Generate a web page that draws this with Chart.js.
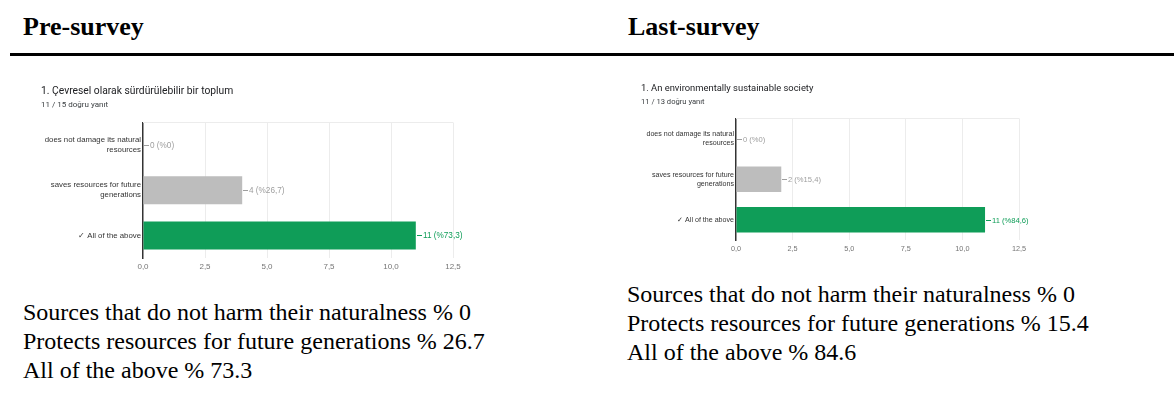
<!DOCTYPE html>
<html lang="tr">
<head>
    <meta charset="UTF-8">
    <title>Pre-survey / Last-survey</title>
    <script src="https://cdn.jsdelivr.net/npm/chart.js@4.4.1/dist/chart.umd.min.js"></script>
    <style>
        html, body {
            margin: 0;
            padding: 0;
            background: #fff;
        }
        body {
            width: 1174px;
            height: 400px;
            position: relative;
            overflow: hidden;
        }
        .head {
            position: absolute;
            top: 14px;
            font: bold 26px/26px "Liberation Serif", "Times New Roman", serif;
            color: #000;
        }
        .rule {
            position: absolute;
            left: 10px;
            right: 0;
            top: 53px;
            height: 3px;
            background: #000;
        }
        .notes {
            position: absolute;
            font: 24px/29px "Liberation Serif", "Times New Roman", serif;
            color: #000;
            white-space: nowrap;
        }
        canvas {
            position: absolute;
        }
    </style>
</head>
<body>

<div class="head" style="left:23px">Pre-survey</div>
<div class="head" style="left:628px">Last-survey</div>
<div class="rule"></div>

<canvas id="preChart" width="454" height="200" style="left:36px; top:80px; width:454px; height:200px"></canvas>
<canvas id="lastChart" width="424" height="190" style="left:636px; top:75px; width:424px; height:190px"></canvas>

<div class="notes" id="preNotes" style="left:23px; top:298px"></div>
<div class="notes" id="lastNotes" style="left:627px; top:280px"></div>

<script>
    // answer options (y axis)
    var categories = [
        ['does not damage its natural', 'resources'],
        ['saves resources for future', 'generations'],
        ['\u2713 All of the above']
    ];

    // pre-survey: counts and percentages
    var preTitle = '1. Çevresel olarak sürdürülebilir bir toplum';
    var preSubtitle = '11 / 15 doğru yanıt';
    var preCounts = [0, 4, 11];
    var prePercents = ['0', '26,7', '73,3'];

    // last-survey
    var lastTitle = '1. An environmentally sustainable society';
    var lastSubtitle = '11 / 13 doğru yanıt';
    var lastCounts = [0, 2, 11];
    var lastPercents = ['0', '15,4', '84,6'];

    // x axis
    var xTickLabels = ['0,0', '2,5', '5,0', '7,5', '10,0', '12,5'];

    // text under the charts
    var preLines = [
        'Sources that do not harm their naturalness % 0',
        'Protects resources for future generations % 26.7',
        'All of the above % 73.3'
    ];
    var lastLines = [
        'Sources that do not harm their naturalness % 0',
        'Protects resources for future generations % 15.4',
        'All of the above % 84.6'
    ];

    var barColors = ['#bdbdbd', '#bdbdbd', '#0f9d58'];
    var labelColors = ['#9e9e9e', '#9e9e9e', '#0f9d58'];

    document.getElementById('preNotes').innerHTML = preLines.join('<br>');
    document.getElementById('lastNotes').innerHTML = lastLines.join('<br>');

    // little "—4 (%26,7)" labels at the end of each bar
    var barValueLabels = {
        id: 'barValueLabels',
        afterDatasetsDraw: function(chart, args, opts) {
            var ctx = chart.ctx;
            var meta = chart.getDatasetMeta(0);
            var data = chart.data.datasets[0].data;
            ctx.save();
            ctx.font = opts.fontSize + 'px "Liberation Sans", Arial, sans-serif';
            ctx.textBaseline = 'middle';
            ctx.textAlign = 'left';
            meta.data.forEach(function(bar, i) {
                var x = Math.round(bar.x);
                var y = Math.round(bar.y);
                ctx.strokeStyle = labelColors[i];
                ctx.fillStyle = labelColors[i];
                ctx.lineWidth = 1;
                ctx.beginPath();
                ctx.moveTo(x + 1, y + 0.5);
                ctx.lineTo(x + 6, y + 0.5);
                ctx.stroke();
                ctx.fillText(data[i] + ' (%' + opts.percents[i] + ')', x + 7, y + 0.5);
            });
            ctx.restore();
        }
    };

    // faint line along the top of the plot
    var topLine = {
        id: 'topLine',
        beforeDatasetsDraw: function(chart) {
            var a = chart.chartArea;
            var ctx = chart.ctx;
            ctx.save();
            ctx.strokeStyle = '#ececec';
            ctx.lineWidth = 1;
            ctx.beginPath();
            ctx.moveTo(a.left, Math.round(a.top) + 0.5);
            ctx.lineTo(a.right, Math.round(a.top) + 0.5);
            ctx.stroke();
            ctx.restore();
        }
    };

    function createChart(id, counts, percents, title, subtitle, s) {
        var ctx = document.getElementById(id).getContext('2d');
        return new Chart(ctx, {
            type: 'bar',
            data: {
                labels: categories,
                datasets: [{
                    data: counts,
                    backgroundColor: barColors,
                    borderWidth: 0,
                    barPercentage: s.barPct,
                    categoryPercentage: 1.0
                }]
            },
            options: {
                indexAxis: 'y',
                responsive: false,
                animation: false,
                devicePixelRatio: 1,
                layout: {
                    padding: { left: 5, right: s.padRight, top: 0, bottom: 0 }
                },
                scales: {
                    x: {
                        min: 0,
                        max: 12.5,
                        ticks: {
                            stepSize: 2.5,
                            padding: s.tickPad,
                            color: '#757575',
                            font: { family: '"Liberation Sans", Arial, sans-serif', size: s.tickSize },
                            callback: function(v, i) { return xTickLabels[i]; }
                        },
                        grid: {
                            drawTicks: false,
                            color: function(c) { return c.index === 0 ? 'rgba(0,0,0,0)' : '#ececec'; }
                        },
                        border: { display: false },
                        afterFit: function(scale) { scale.height = s.xHeight; }
                    },
                    y: {
                        ticks: {
                            padding: 2,
                            color: '#333',
                            font: { family: '"Liberation Sans", Arial, sans-serif', size: s.catSize, lineHeight: 1.28 }
                        },
                        grid: { display: false, drawTicks: false },
                        border: { display: true, color: '#333', width: 1.5 },
                        afterFit: function(scale) { scale.width = s.yWidth; }
                    }
                },
                plugins: {
                    legend: { display: false },
                    tooltip: { enabled: false },
                    title: {
                        display: true,
                        text: title,
                        align: 'start',
                        color: '#202124',
                        font: { family: 'Roboto, sans-serif', size: s.titleSize, weight: 'normal', lineHeight: 1.2 },
                        padding: { top: s.titlePadTop, bottom: 1 }
                    },
                    subtitle: {
                        display: true,
                        text: subtitle,
                        align: 'start',
                        color: '#3c4043',
                        font: { family: 'Roboto, sans-serif', size: s.subSize, lineHeight: 1.2 },
                        padding: { top: s.subPadTop, bottom: s.subPadBottom }
                    },
                    barValueLabels: { percents: percents, fontSize: s.labelSize }
                }
            },
            plugins: [topLine, barValueLabels]
        });
    }

    createChart('preChart', preCounts, prePercents, preTitle, preSubtitle, {
        barPct: 0.62, padRight: 37, tickPad: 4, tickSize: 8, xHeight: 22, catSize: 7.8, yWidth: 102,
        titleSize: 10.3, titlePadTop: 5.5, subSize: 8, subPadTop: 1.5, subPadBottom: 12.5, labelSize: 8.2
    });

    createChart('lastChart', lastCounts, lastPercents, lastTitle, lastSubtitle, {
        barPct: 0.63, padRight: 41, tickPad: 5, tickSize: 7.3, xHeight: 25, catSize: 7.1, yWidth: 95,
        titleSize: 9.4, titlePadTop: 8.3, subSize: 7.6, subPadTop: 2.4, subPadBottom: 11.3, labelSize: 7.6
    });
</script>

</body>
</html>
